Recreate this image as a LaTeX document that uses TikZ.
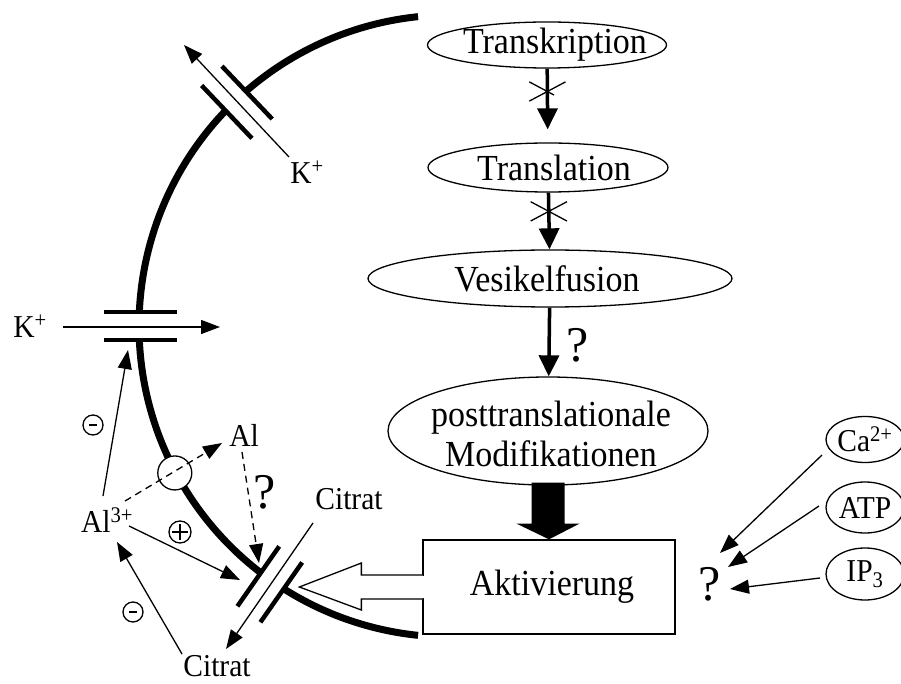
\documentclass[tikz,border=0pt]{standalone}
\usepackage{fontspec}
\setmainfont{Liberation Serif}
\usetikzlibrary{arrows.meta,shapes.geometric,shapes.misc,calc}

\begin{document}
\begin{tikzpicture}[x=1pt,y=-1pt,
	lbl/.style={font=\fontsize{29.5}{32}\selectfont, inner sep=2pt, yscale=1.08},
	txt/.style={font=\fontsize{34}{37}\selectfont, yscale=1.08},
	qm/.style={font=\fontsize{50}{50}\selectfont, inner sep=2pt},
	proc/.style={ellipse, draw, line width=1.3pt, inner sep=0pt},
	membrane/.style={line width=7pt},
	chbar/.style={line width=4.5pt},
	thinarr/.style={line width=1.3pt, -{Triangle[length=19pt,width=14pt]}},
	dasharr/.style={thinarr, dash pattern=on 7pt off 5pt},
	flow/.style={line width=3.5pt, -{Triangle[length=21pt,width=20pt]}},
	xmark/.style={cross out, draw, line width=1.3pt, minimum width=35pt, minimum height=18pt, inner sep=0pt},
	sign/.style={circle, draw, line width=1.3pt, inner sep=0pt, minimum size=20pt},
	minussign/.style={sign, path picture={\draw[line width=2.6pt] ([xshift=-4pt]path picture bounding box.center) -- ([xshift=4pt]path picture bounding box.center);}},
	plussign/.style={sign, minimum size=22pt, path picture={
		\draw[line width=1.2pt] ([xshift=-8pt]path picture bounding box.center) -- ([xshift=8pt]path picture bounding box.center);
		\draw[line width=1.2pt] ([yshift=-8pt]path picture bounding box.center) -- ([yshift=8pt]path picture bounding box.center);}}
	]
	\useasboundingbox (0,0) rectangle (901,684);
	\newcommand{\memr}{311}
	\coordinate (mc) at (450,326);
	% membrane
	\foreach \s/\e in {264.1/229, 223.8/182.6, 177.4/127.5, 122.3/95.9}
	{
		\draw[membrane] ($(mc)+(\s:\memr)$) arc[start angle=\s, end angle=\e, radius=\memr];
	}
	% channels
	\foreach \a/\r/\n in {226.4/309/chtop, 180/310/chleft, 124.9/315/chbot}
	{
		\pgfmathsetmacro{\al}{\a+90}
		\pgfmathsetmacro{\ar}{\a-90}
		\coordinate (\n) at ($(mc)+(\a:\r)$);
		\draw[chbar] ($(\n)+(\a:36.5)+(\al:14)$) -- ($(\n)+(\a:-36.5)+(\al:14)$);
		\draw[chbar] ($(\n)+(\a:36.5)+(\ar:14)$) -- ($(\n)+(\a:-36.5)+(\ar:14)$);
	}
	\node[circle, draw, fill=white, line width=1.3pt, minimum size=34pt, inner sep=0pt] (pore) at ($(mc)+(151.9:312)$) {};

	% ions and labels
	\node[lbl] (k1) at (307,172) {K\textsuperscript{+}};
	\node[lbl] (k2) at (30,326) {K\textsuperscript{+}};
	\node[lbl] (al3) at (107,520) {Al\textsuperscript{3+}};
	\node[lbl] (al) at (244,435) {Al};
	\node[lbl] (cit1) at (349,499) {Citrat};
	\node[lbl] (cit2) at (217,666) {Citrat};
	\node[qm] (q1) at (265,492) {?};
	\node[minussign] (m1) at (93,425) {};
	\node[minussign] (m2) at (133,612) {};
	\node[plussign] (p1) at (180,532) {};

	\coordinate (k1tip) at (184,45);
	\coordinate (k2tip) at (220,327);
	\coordinate (cit1tip) at (226,649);
	\coordinate (kin) at (128,350);
	\coordinate (altip) at (259,563);
	\coordinate (alin) at (240,580);

	\draw[thinarr] ([shift={(-18,-15)}]k1.center) -- (k1tip);
	\draw[thinarr] ([shift={(33,1)}]k2.center) -- (k2tip);
	\draw[thinarr] ([shift={(-36,24)}]cit1.center) -- (cit1tip);
	\draw[thinarr] ([shift={(-4,-24)}]al3.center) -- (kin);
	\draw[dasharr] ([shift={(18,-19)}]al3.center) -- ([shift={(-22,8)}]al.center);
	\draw[dasharr] ([shift={(-2,17)}]al.center) -- (altip);
	\draw[thinarr] ([shift={(22,6)}]al3.center) -- (alin);
	\draw[thinarr] ([shift={(-35,-12)}]cit2.center) -- ([shift={(10,22)}]al3.center);

	% pathway
	\node[proc, minimum width=239pt, minimum height=46pt, label={[txt, xshift=8pt]center:Transkription}] (trans) at (547,45) {};
	\node[proc, minimum width=240pt, minimum height=49pt, label={[txt, xshift=6pt]center:Translation}] (transl) at (548,167.5) {};
	\node[proc, minimum width=364pt, minimum height=57pt, label={[txt, xshift=-3pt]center:Vesikelfusion}] (ves) at (550,278.5) {};
	\node[proc, minimum width=320pt, minimum height=108pt, label={[txt, align=center, xshift=3pt, yshift=-3pt]center:posttranslationale\\Modifikationen}] (post) at (548,431) {};
	\node[draw, line width=1.3pt, minimum width=252pt, minimum height=94pt, label={[txt, xshift=3pt]center:Aktivierung}] (akt) at (549,587) {};
	\node[qm] (q2) at (578,345) {?};

	\draw[flow, shorten >=13pt] (trans) -- node[xmark, pos=.31] (x1) {} (transl);
	\draw[flow] (transl) -- node[xmark, pos=.33] (x2) {} (ves);
	\draw[flow] (ves) -- (post);
	\fill ($(post.south)+(-16.5,-3)$) -- ($(post.south)+(-16.5,38)$) -- ($(post.south)+(-31.5,38)$) -- (akt.north)
		-- ($(post.south)+(31.5,38)$) -- ($(post.south)+(16.5,38)$) -- ($(post.south)+(16.5,-3)$) -- cycle;
	\coordinate (aw) at (akt.west);
	\fill[white] ($(aw)+(-1,-11.4)$) rectangle ($(aw)+(1.2,11.4)$);
	\draw[line width=1.3pt, fill=white] ($(aw)+(0.6,-12)$) -- ($(aw)+(-61,-12)$) -- ($(aw)+(-61,-24)$) -- ($(aw)+(-123,0)$)
		-- ($(aw)+(-61,23)$) -- ($(aw)+(-61,12)$) -- ($(aw)+(0.6,12)$);

	% regulators
	\foreach \n/\y/\h/\t in {ca/439.5/46/Ca\textsuperscript{2+}, atp/507.5/51/ATP, ip/574/52/IP\textsubscript{3}}
	{
		\node[proc, minimum width=78pt, minimum height=\h pt, label={[lbl]center:\t}] (\n) at (865,\y) {};
	}
	\node[qm] (q3) at (710,584) {?};
	\draw[thinarr] ([shift={(-43,15.5)}]ca.center) -- ([shift={(10,-31)}]q3.center);
	\draw[thinarr] ([shift={(-46,-1.5)}]atp.center) -- ([shift={(18,-17)}]q3.center);
	\draw[thinarr] ([shift={(-45,4)}]ip.center) -- ([shift={(20,5)}]q3.center);
\end{tikzpicture}
\end{document}
